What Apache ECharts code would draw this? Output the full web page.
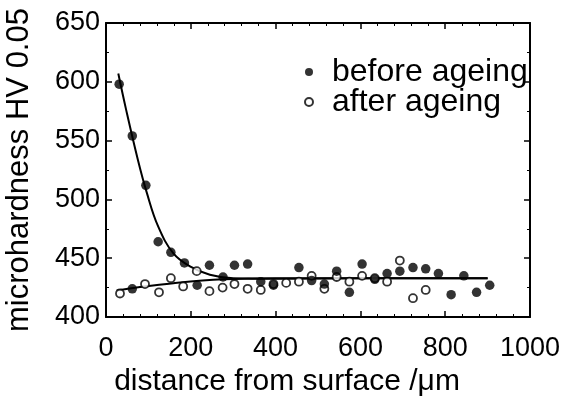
<!DOCTYPE html>
<html>
<head>
<meta charset="utf-8">
<script src="https://cdn.jsdelivr.net/npm/echarts@6/dist/echarts.min.js"></script>
<style>html,body{margin:0;padding:0;background:#fff}#c{width:566px;height:405px}</style>
</head>
<body>
<div id="c"></div>
<script>
// distance (µm), microhardness HV 0.05
const beforeX = [31, 62, 62, 94, 123, 153, 185, 215, 244, 276, 303, 334, 365, 395, 455, 485, 515, 544, 574, 604, 634, 663, 693, 724, 754, 784, 814, 844, 874, 905];
const beforeY = [598, 554, 424, 512, 464, 455, 446, 427, 444, 434, 444, 445, 430, 427, 442, 431, 428, 439, 421, 445, 432, 437, 439, 442, 441, 437, 419, 435, 421, 427];
const afterX = [33, 92, 125, 153, 182, 214, 244, 275, 303, 334, 365, 395, 425, 455, 485, 515, 544, 574, 604, 634, 663, 693, 724, 754];
const afterY = [420, 428, 421, 433, 426, 439, 422, 425, 428, 424, 423, 428, 429, 430, 435, 424, 434, 430, 435, 433, 430, 448, 416, 423];
// fitted curves
const fitBeforeX = [29, 47, 75, 96, 123, 159, 198, 245, 300, 400, 600, 900];
const fitBeforeY = [607, 577, 534, 506, 477, 454, 443, 436, 433, 432.5, 433, 433];
const fitAfterX = [25, 80, 159, 276, 400, 600, 900];
const fitAfterY = [422.5, 425.5, 428.8, 432, 433, 433, 433];

const xTicks = [0, 200, 400, 600, 800, 1000];
const yTicks = [400, 450, 500, 550, 600, 650];

const zip = (a, b) => a.map((v, i) => [v, b[i]]);
const font = '"Liberation Sans", Arial, Helvetica, sans-serif';
const chart = echarts.init(document.getElementById('c'), null, {renderer: 'canvas'});

const axisCommon = {
  axisLine: {show: true, onZero: false, lineStyle: {color: '#000', width: 2}},
  axisTick: {show: true, inside: true, length: 6, lineStyle: {color: '#000', width: 1.5}},
  splitLine: {show: false}
};

chart.setOption({
  animation: false,
  grid: {left: 106, right: 36, top: 23, bottom: 88, containLabel: false, outerBoundsMode: 'none'},
  legend: {
    data: [
      {name: 'before ageing', icon: 'circle'},
      {name: 'after ageing', icon: 'circle'}
    ],
    orient: 'vertical', left: 299, top: 51,
    itemWidth: 8, itemHeight: 8, itemGap: -2,
    textStyle: {fontFamily: font, fontSize: 32, color: '#000', padding: [0, 0, 0, 14]}
  },
  xAxis: [
    Object.assign({}, axisCommon, {
      type: 'value', min: xTicks[0], max: xTicks[xTicks.length - 1], interval: 200,
      minorTick: {show: true, splitNumber: 5, length: 3, lineStyle: {color: '#000', width: 1}},
      axisLabel: {fontFamily: font, fontSize: 27, color: '#000', margin: 18, formatter: v => String(v)},
      name: 'distance from surface /μm', nameLocation: 'middle', nameGap: 50,
      nameTextStyle: {fontFamily: font, fontSize: 30, color: '#000', padding: [0, 62, 0, 0]}
    }),
    Object.assign({}, axisCommon, {
      type: 'value', position: 'top', min: 0, max: 1000, interval: 200,
      minorTick: {show: true, splitNumber: 5, length: 3, lineStyle: {color: '#000', width: 1}},
      axisLabel: {show: false}
    })
  ],
  yAxis: [
    Object.assign({}, axisCommon, {
      type: 'value', min: yTicks[0], max: yTicks[yTicks.length - 1], interval: 50,
      minorTick: {show: true, splitNumber: 2, length: 3, lineStyle: {color: '#000', width: 1}},
      axisLabel: {fontFamily: font, fontSize: 27, color: '#000', margin: 6},
      name: 'microhardness HV 0.05', nameLocation: 'middle', nameGap: 71, nameRotate: 90,
      nameTextStyle: {fontFamily: font, fontSize: 31, color: '#000'}
    }),
    Object.assign({}, axisCommon, {
      type: 'value', position: 'right', min: 400, max: 650, interval: 50,
      minorTick: {show: true, splitNumber: 2, length: 3, lineStyle: {color: '#000', width: 1}},
      axisLabel: {show: false}
    })
  ],
  series: [
    {
      name: 'fitBefore', type: 'line', data: zip(fitBeforeX, fitBeforeY), smooth: 0.4,
      showSymbol: false, symbol: 'none', lineStyle: {color: '#000', width: 2}, z: 2, silent: true
    },
    {
      name: 'fitAfter', type: 'line', data: zip(fitAfterX, fitAfterY), smooth: 0.4,
      showSymbol: false, symbol: 'none', lineStyle: {color: '#000', width: 2}, z: 2, silent: true
    },
    {
      name: 'after ageing', type: 'scatter', data: zip(afterX, afterY), symbol: 'circle', symbolSize: 8,
      itemStyle: {color: '#fff', borderColor: '#000', borderWidth: 1.8}, z: 3
    },
    {
      name: 'before ageing', type: 'scatter', data: zip(beforeX, beforeY), symbol: 'circle', symbolSize: 9.5,
      itemStyle: {color: '#000', borderColor: '#000', borderWidth: 0}, z: 4
    }
  ]
});
</script>
</body>
</html>
